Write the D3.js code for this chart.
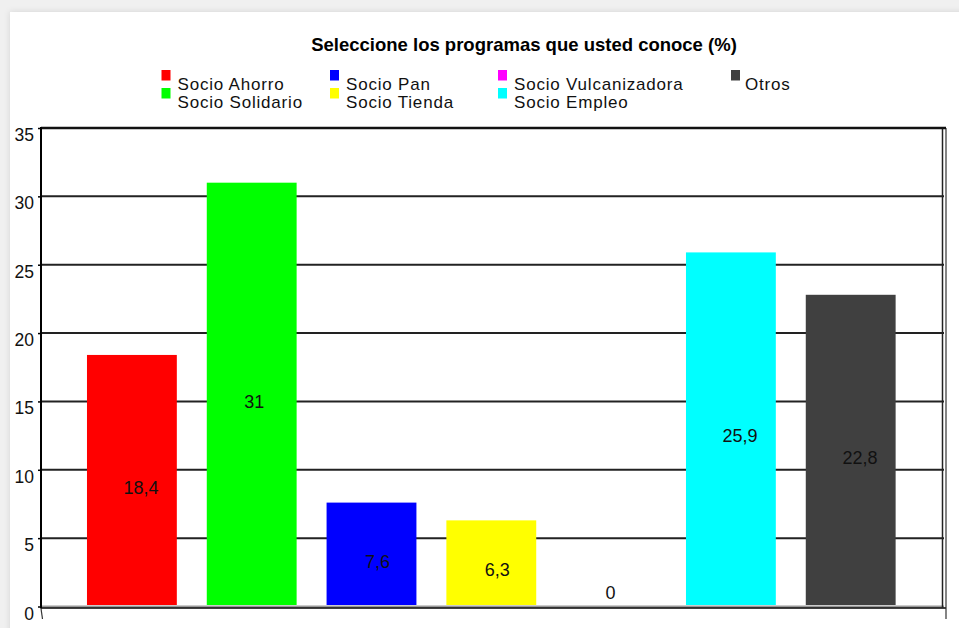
<!DOCTYPE html>
<html><head><meta charset="utf-8">
<script src="https://cdn.jsdelivr.net/npm/d3@7"></script>
<style>
html,body{margin:0;padding:0;background:#f0f0f0;}
svg{display:block;font-family:"Liberation Sans",Arial,sans-serif;}
</style></head>
<body>
<svg id="chart" width="959" height="628"></svg>
<script>
const title = "Seleccione los programas que usted conoce (%)";
const categories = ["Socio Ahorro","Socio Solidario","Socio Pan","Socio Tienda","Socio Vulcanizadora","Socio Empleo","Otros"];
const values = [18.4, 31, 7.6, 6.3, 0, 25.9, 22.8];
const valueLabels = ["18,4","31","7,6","6,3","0","25,9","22,8"];
const colors = ["#ff0000","#00ff00","#0000ff","#ffff00","#ff00ff","#00ffff","#404040"];
const yTicks = [0,5,10,15,20,25,30,35];

const svg = d3.select("#chart");
// card
const defs = svg.append("defs");
const f = defs.append("filter").attr("id","sh").attr("x","-5%").attr("y","-5%").attr("width","110%").attr("height","110%");
f.append("feDropShadow").attr("dx",0).attr("dy",0).attr("stdDeviation",3).attr("flood-color","#000").attr("flood-opacity",0.12);
svg.append("rect").attr("x",10).attr("y",12).attr("width",960).attr("height",630).attr("fill","#fff").attr("filter","url(#sh)");

const L = 41, R = 944, T = 128, B = 606.5;
const x = d3.scaleBand().domain(categories).range([72, 72 + 7*119.8]).paddingInner(0.25).paddingOuter(0.125);
const y = d3.scaleLinear().domain([0,35]).range([B, T]);

// title
svg.append("text").attr("x",524).attr("y",51).attr("text-anchor","middle")
  .attr("font-size",18.5).attr("font-weight","bold").attr("fill","#000").text(title);

// legend
const colX = [161.5, 330, 498, 731];
const rowY = [89.5, 107.5];
const leg = svg.append("g");
categories.forEach((c,i)=>{
  const col = Math.floor(i/2), row = i%2;
  const g = leg.append("g").attr("transform",`translate(${colX[col]},${rowY[row]})`);
  g.append("rect").attr("x",0).attr("y",-19.5).attr("width",9).attr("height",10.5).attr("fill",colors[i]);
  g.append("text").attr("x",col===3?14:16).attr("y",0).attr("font-size",17).attr("letter-spacing",0.8).attr("fill","#111").text(c);
});

// gridlines
svg.append("g").selectAll("line").data(yTicks).join("line")
  .attr("x1",L).attr("x2",R).attr("y1",d=>y(d)).attr("y2",d=>y(d))
  .attr("stroke",d=>d===0?"#999":"#222").attr("stroke-width",2);
svg.append("line").attr("x1",L).attr("x2",R+2).attr("y1",B+1.5).attr("y2",B+1.5).attr("stroke","#000").attr("stroke-width",1.5);
// right double border
svg.append("line").attr("x1",942.5).attr("x2",942.5).attr("y1",T).attr("y2",B+1).attr("stroke","#222").attr("stroke-width",1.5);
svg.append("line").attr("x1",946).attr("x2",946).attr("y1",T).attr("y2",619).attr("stroke","#333").attr("stroke-width",1.2);
svg.append("line").attr("x1",L).attr("x2",946).attr("y1",T).attr("y2",T).attr("stroke","#111").attr("stroke-width",2.5);

// bars
svg.append("g").selectAll("rect").data(values).join("rect")
  .attr("x",(d,i)=>x(categories[i])).attr("width",x.bandwidth())
  .attr("y",d=>y(d)).attr("height",d=>Math.max(0,B-1.5-y(d)))
  .attr("fill",(d,i)=>colors[i]);

// value labels
svg.append("g").selectAll("text").data(values).join("text")
  .attr("x",(d,i)=>x(categories[i])+x.bandwidth()/2 + 3.3*valueLabels[i].length - 4)
  .attr("y",d=>Math.min((y(d)+B)/2+13, B-8))
  .attr("text-anchor","middle").attr("font-size",18).attr("fill","#111")
  .text((d,i)=>valueLabels[i]);

// y axis
const ax = svg.append("g").attr("transform",`translate(${L},0)`)
  .call(d3.axisLeft(y).tickValues(yTicks).tickSize(3).tickPadding(4).tickFormat(d3.format("d")));
ax.select(".domain").remove();
ax.selectAll(".tick line").attr("stroke","#000").attr("stroke-width",1.5);
ax.selectAll(".tick text").attr("font-size",17.5).attr("fill","#111").attr("font-family","Liberation Sans, Arial, sans-serif")
  .attr("dy",null).attr("y",12.5);
svg.append("line").attr("x1",L).attr("x2",L).attr("y1",T-1).attr("y2",B+2).attr("stroke","#000").attr("stroke-width",2);
svg.append("line").attr("x1",L).attr("x2",L+1.5).attr("y1",B+2).attr("y2",619).attr("stroke","#333").attr("stroke-width",1.2);
</script>
</body></html>
